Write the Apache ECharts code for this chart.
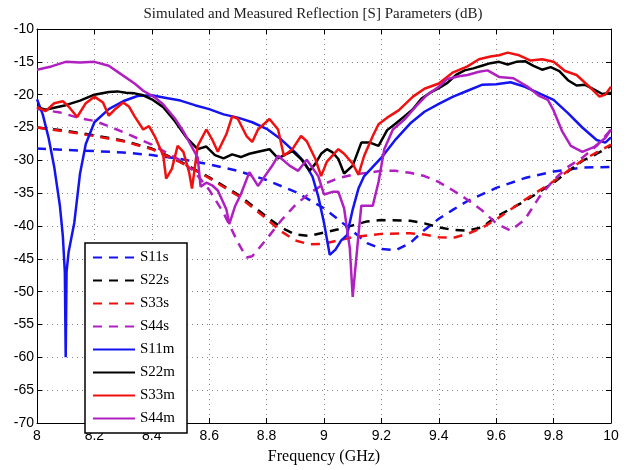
<!DOCTYPE html>
<html>
<head>
<meta charset="utf-8">
<script src="https://cdn.jsdelivr.net/npm/echarts@6/dist/echarts.min.js"></script>
<style>
  html, body { margin: 0; padding: 0; background: #fff; }
  #chart { width: 626px; height: 470px; }
</style>
</head>
<body>
<div id="chart"></div>
<script>
// 频率 (GHz) / 反射系数 (dB)
var s11s = [[8.0,-28.2],[8.1,-28.4],[8.2,-28.6],[8.3,-28.8],[8.4,-29.2],[8.5,-29.8],[8.6,-30.6],[8.7,-31.6],[8.8,-33.0],[8.9,-34.8],[9.0,-37.3],[9.05,-39.0],[9.1,-40.8],[9.15,-42.6],[9.2,-43.5],[9.25,-43.7],[9.3,-42.6],[9.35,-40.6],[9.4,-38.9],[9.45,-37.5],[9.5,-36.2],[9.6,-34.2],[9.7,-32.7],[9.8,-31.7],[9.9,-31.1],[10.0,-31.0]];
var s22s = [[8.0,-25.0],[8.1,-25.5],[8.2,-26.2],[8.3,-27.0],[8.4,-28.2],[8.5,-30.2],[8.6,-32.6],[8.7,-35.2],[8.8,-38.6],[8.85,-40.2],[8.9,-41.3],[8.95,-41.5],[9.0,-41.0],[9.05,-40.5],[9.1,-39.9],[9.15,-39.3],[9.2,-39.1],[9.3,-39.2],[9.35,-39.6],[9.4,-40.2],[9.45,-40.6],[9.5,-40.7],[9.55,-40.2],[9.6,-38.6],[9.7,-36.2],[9.8,-33.4],[9.85,-31.7],[9.9,-30.1],[9.95,-29.0],[10.0,-27.8]];
var s33s = [[8.0,-25.0],[8.1,-25.6],[8.2,-26.3],[8.3,-27.1],[8.4,-28.3],[8.5,-30.3],[8.6,-32.7],[8.7,-35.4],[8.8,-38.9],[8.85,-40.8],[8.9,-42.2],[8.95,-42.8],[9.0,-42.7],[9.05,-42.2],[9.1,-41.7],[9.2,-41.2],[9.3,-41.1],[9.35,-41.3],[9.4,-41.7],[9.45,-41.8],[9.5,-41.2],[9.55,-40.3],[9.6,-39.0],[9.7,-36.0],[9.8,-33.2],[9.9,-30.0],[10.0,-27.6]];
var s44s = [[8.0,-22.2],[8.08,-22.7],[8.15,-23.6],[8.2,-24.0],[8.25,-24.8],[8.3,-25.7],[8.4,-27.6],[8.5,-30.0],[8.55,-31.8],[8.6,-34.5],[8.65,-38.0],[8.7,-42.5],[8.73,-44.8],[8.75,-44.6],[8.8,-42.0],[8.85,-39.2],[8.9,-36.8],[8.95,-35.0],[9.0,-33.6],[9.05,-32.7],[9.1,-32.2],[9.15,-31.9],[9.2,-31.6],[9.25,-31.6],[9.3,-31.9],[9.35,-32.4],[9.4,-33.3],[9.45,-34.6],[9.5,-36.0],[9.55,-37.6],[9.6,-39.6],[9.65,-40.7],[9.7,-39.0],[9.75,-35.6],[9.8,-33.0],[9.85,-31.0],[9.9,-29.6],[9.95,-27.8],[10.0,-25.3]];

var s11m = [[8.0,-20.7],[8.02,-23.0],[8.04,-26.5],[8.06,-31.0],[8.08,-37.0],[8.09,-41.5],[8.097,-47.0],[8.1,-60.0],[8.103,-47.0],[8.11,-44.0],[8.13,-39.5],[8.15,-32.0],[8.17,-27.5],[8.2,-24.2],[8.25,-22.2],[8.3,-21.0],[8.35,-20.2],[8.4,-20.1],[8.45,-20.5],[8.5,-20.9],[8.55,-21.6],[8.6,-22.2],[8.65,-23.0],[8.7,-23.5],[8.75,-24.2],[8.8,-25.2],[8.85,-26.8],[8.9,-28.8],[8.93,-30.2],[8.96,-32.5],[8.98,-35.5],[9.0,-39.5],[9.02,-44.4],[9.04,-43.6],[9.06,-42.2],[9.08,-41.4],[9.1,-37.5],[9.12,-34.3],[9.14,-32.4],[9.17,-31.0],[9.2,-29.6],[9.25,-26.8],[9.3,-24.4],[9.35,-22.6],[9.4,-21.4],[9.45,-20.3],[9.5,-19.4],[9.55,-18.5],[9.6,-18.4],[9.65,-18.1],[9.7,-18.8],[9.75,-19.8],[9.8,-20.8],[9.85,-22.8],[9.9,-25.0],[9.95,-26.9],[9.98,-27.3],[10.0,-26.5]];
var s22m = [[8.0,-21.9],[8.03,-22.3],[8.06,-22.0],[8.1,-21.6],[8.15,-20.9],[8.2,-20.0],[8.25,-19.6],[8.28,-19.5],[8.31,-19.7],[8.34,-19.8],[8.37,-20.1],[8.4,-20.7],[8.44,-21.9],[8.48,-24.0],[8.52,-26.5],[8.56,-28.3],[8.59,-27.9],[8.62,-29.2],[8.65,-29.7],[8.68,-29.1],[8.71,-29.5],[8.74,-29.0],[8.77,-28.7],[8.81,-28.3],[8.84,-29.7],[8.87,-29.0],[8.89,-28.6],[8.92,-29.8],[8.95,-31.6],[8.97,-30.5],[8.99,-29.0],[9.01,-28.3],[9.03,-28.8],[9.05,-29.8],[9.07,-32.0],[9.1,-30.8],[9.13,-27.3],[9.16,-27.3],[9.19,-27.8],[9.22,-25.4],[9.25,-24.4],[9.28,-23.3],[9.31,-22.2],[9.34,-20.6],[9.37,-19.7],[9.4,-19.0],[9.43,-18.2],[9.46,-17.0],[9.49,-16.3],[9.52,-16.0],[9.55,-15.6],[9.58,-15.2],[9.61,-15.0],[9.64,-15.4],[9.67,-15.0],[9.7,-14.9],[9.73,-15.6],[9.76,-16.2],[9.79,-15.8],[9.82,-16.4],[9.85,-17.8],[9.88,-18.6],[9.91,-18.5],[9.94,-19.2],[9.97,-19.9],[10.0,-19.7]];
var s33m = [[8.0,-21.9],[8.03,-22.5],[8.06,-21.3],[8.09,-21.0],[8.11,-21.8],[8.14,-23.4],[8.17,-21.3],[8.2,-20.3],[8.23,-21.2],[8.25,-23.2],[8.27,-22.3],[8.3,-21.2],[8.32,-21.8],[8.34,-23.3],[8.37,-25.3],[8.39,-24.8],[8.41,-26.3],[8.44,-29.3],[8.45,-32.8],[8.47,-31.3],[8.49,-27.8],[8.51,-28.7],[8.53,-31.8],[8.54,-34.3],[8.56,-27.8],[8.59,-25.3],[8.61,-26.8],[8.63,-28.7],[8.66,-26.0],[8.68,-23.3],[8.7,-23.7],[8.73,-26.3],[8.75,-27.2],[8.77,-25.3],[8.81,-23.7],[8.84,-25.3],[8.86,-29.3],[8.89,-28.3],[8.92,-26.3],[8.94,-27.1],[8.97,-29.8],[8.99,-32.4],[9.01,-30.2],[9.05,-28.3],[9.07,-29.0],[9.1,-30.5],[9.12,-32.2],[9.14,-29.3],[9.17,-26.3],[9.19,-24.5],[9.22,-23.5],[9.26,-22.4],[9.31,-20.3],[9.35,-19.1],[9.4,-18.3],[9.45,-16.6],[9.5,-15.7],[9.54,-14.6],[9.58,-14.2],[9.61,-14.0],[9.64,-13.6],[9.68,-14.0],[9.72,-14.8],[9.76,-14.6],[9.8,-15.0],[9.84,-16.4],[9.88,-17.0],[9.92,-18.6],[9.96,-20.3],[9.98,-20.0],[10.0,-18.8]];
var s44m = [[8.0,-16.2],[8.05,-15.7],[8.1,-15.0],[8.15,-15.1],[8.2,-15.0],[8.25,-15.6],[8.29,-16.8],[8.34,-18.3],[8.37,-19.4],[8.41,-20.4],[8.44,-21.5],[8.48,-23.6],[8.51,-25.6],[8.53,-27.2],[8.56,-29.6],[8.57,-34.0],[8.59,-33.4],[8.61,-33.8],[8.63,-34.6],[8.66,-37.5],[8.67,-39.7],[8.69,-37.0],[8.71,-35.2],[8.74,-31.8],[8.77,-33.9],[8.82,-30.8],[8.84,-29.3],[8.88,-30.8],[8.91,-31.6],[8.94,-29.9],[8.98,-32.4],[9.0,-35.2],[9.03,-34.8],[9.05,-34.8],[9.07,-37.3],[9.09,-43.4],[9.1,-50.8],[9.12,-41.4],[9.13,-36.9],[9.17,-36.9],[9.19,-33.3],[9.21,-28.3],[9.24,-25.3],[9.28,-23.8],[9.32,-21.8],[9.36,-20.0],[9.4,-18.8],[9.43,-17.6],[9.47,-17.2],[9.5,-17.0],[9.54,-16.5],[9.57,-16.3],[9.61,-17.3],[9.66,-17.5],[9.71,-18.8],[9.75,-20.2],[9.78,-20.8],[9.8,-22.4],[9.83,-25.6],[9.86,-27.8],[9.9,-28.7],[9.94,-28.0],[9.98,-26.6],[10.0,-25.3]];

var names = ['S11s', 'S22s', 'S33s', 'S44s', 'S11m', 'S22m', 'S33m', 'S44m'];
var datas = [s11s, s22s, s33s, s44s, s11m, s22m, s33m, s44m];
var colors = ['#1414f0', '#000000', '#f01010', '#b020c0', '#1414f0', '#000000', '#f01010', '#b020c0'];

var chart = echarts.init(document.getElementById('chart'));

var series = [];
for (var i = 0; i < names.length; i++) {
    series.push({
        name: names[i],
        type: 'line',
        data: datas[i],
        showSymbol: false,
        symbol: 'none',
        smooth: false,
        animation: false,
        lineStyle: {
            color: colors[i],
            width: 2.5,
            type: i < 4 ? [9, 7] : 'solid'
        },
        itemStyle: { color: colors[i] }
    });
}

var tickFont = { fontFamily: '"Liberation Sans", Arial, sans-serif', fontSize: 14, color: '#000' };
var serif = '"Liberation Serif", "Times New Roman", serif';

var option = {
    backgroundColor: '#fff',
    animation: false,
    title: {
        text: 'Simulated and Measured Reflection [S] Parameters (dB)',
        left: 'center',
        top: 2,
        textStyle: { fontFamily: serif, fontSize: 15, fontWeight: 'normal', color: '#222' }
    },
    grid: { left: 37, right: 15, top: 29, bottom: 44, containLabel: false },
    legend: {
        orient: 'vertical',
        left: 85,
        top: 243,
        data: names,
        backgroundColor: '#fff',
        borderColor: '#000',
        borderWidth: 1.5,
        padding: [7, 12, 7, 7],
        itemWidth: 42,
        itemHeight: 14,
        itemGap: 8,
        // 图例里只要线段，不要圆点
        itemStyle: { color: 'rgba(0,0,0,0)', borderWidth: 0, opacity: 0 },
        textStyle: { fontFamily: serif, fontSize: 15, color: '#000' }
    },
    xAxis: [{
        type: 'value',
        min: 8,
        max: 10,
        interval: 0.2,
        name: 'Frequency (GHz)',
        nameLocation: 'middle',
        nameGap: 26,
        nameTextStyle: { fontFamily: serif, fontSize: 16, color: '#000' },
        axisLine: { show: true, lineStyle: { color: '#000', width: 1 } },
        axisTick: { show: true, inside: true, length: 5, lineStyle: { color: '#000' } },
        axisLabel: Object.assign({ margin: 6, formatter: function (v) { return String(+v.toFixed(1)); } }, tickFont),
        splitLine: { show: true, lineStyle: { color: '#888', type: [1, 4] } }
    }, {
        type: 'value',
        position: 'top',
        min: 8,
        max: 10,
        interval: 0.2,
        axisLine: { show: true, lineStyle: { color: '#000', width: 1 } },
        axisTick: { show: true, inside: true, length: 5, lineStyle: { color: '#000' } },
        axisLabel: { show: false },
        splitLine: { show: false }
    }],
    yAxis: [{
        type: 'value',
        min: -70,
        max: -10,
        interval: 5,
        axisLine: { show: true, lineStyle: { color: '#000', width: 1 } },
        axisTick: { show: true, inside: true, length: 5, lineStyle: { color: '#000' } },
        axisLabel: Object.assign({ margin: 3 }, tickFont),
        splitLine: { show: true, lineStyle: { color: '#888', type: [1, 4] } }
    }, {
        type: 'value',
        position: 'right',
        min: -70,
        max: -10,
        interval: 5,
        axisLine: { show: true, lineStyle: { color: '#000', width: 1 } },
        axisTick: { show: true, inside: true, length: 5, lineStyle: { color: '#000' } },
        axisLabel: { show: false },
        splitLine: { show: false }
    }],
    series: series
};

chart.setOption(option);
</script>
</body>
</html>
